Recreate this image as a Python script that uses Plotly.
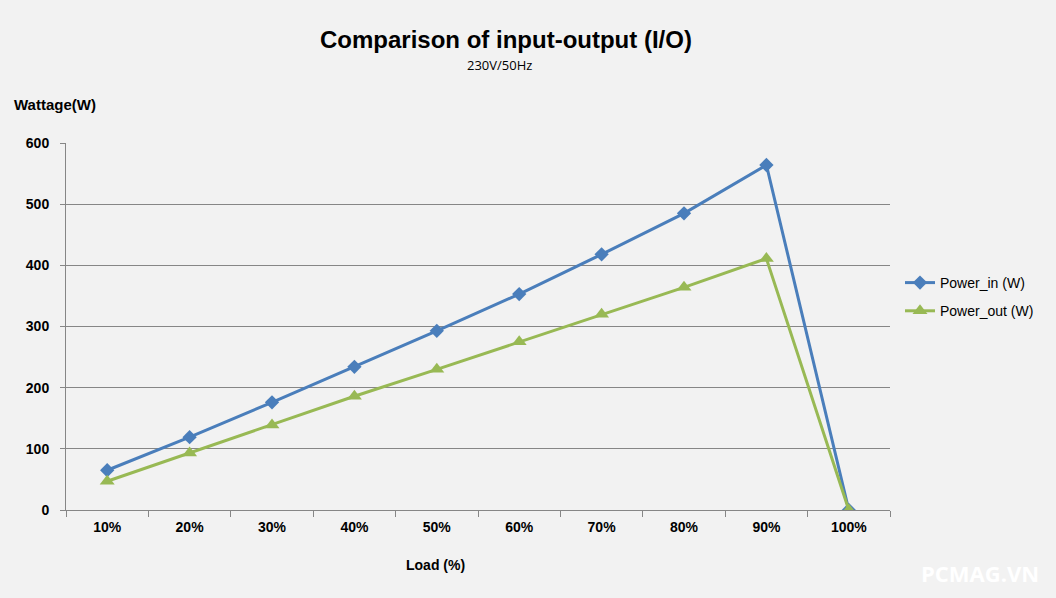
import plotly.graph_objects as go

categories = ["10%", "20%", "30%", "40%", "50%", "60%", "70%", "80%", "90%", "100%"]
power_in = [65, 119, 176, 234, 293, 353, 418, 485, 564, 0]
power_out = [47, 93, 139, 186, 230, 275, 320, 364, 411, 0]
y_ticks = [0, 100, 200, 300, 400, 500, 600]

BG = "#F2F2F2"
GRID = "#868686"
W, H = 1056, 598
L, R, T, B = 66, 890, 143, 510

fig = go.Figure()
fig.add_trace(go.Scatter(
    x=categories, y=power_in, name="Power_in (W)", mode="lines+markers",
    legendgroup="a",
    line=dict(color="#4A7EBB", width=3),
    marker=dict(symbol="diamond", size=11, color="#4A7EBB"),
))
fig.add_trace(go.Scatter(
    x=categories, y=power_out, name="Power_out (W)", mode="lines+markers",
    legendgroup="b",
    line=dict(color="#98B954", width=3),
    marker=dict(symbol="triangle-up", size=13, color="#98B954"),
))

pw, ph = R - L, B - T
def px(x):
    return (x - L) / pw
def py(y):
    return (B - y) / ph

fig.update_layout(
    width=W, height=H,
    paper_bgcolor=BG, plot_bgcolor=BG,
    margin=dict(l=L, r=W - R, t=T, b=H - B),
    font=dict(family="Liberation Sans, Arial, sans-serif", color="#000000"),
    showlegend=True,
    legend=dict(x=px(900), y=py(297), xanchor="left", yanchor="middle",
                font=dict(size=14, family="Liberation Sans, Arial"),
                bgcolor="rgba(0,0,0,0)", tracegroupgap=7),
    xaxis=dict(
        type="category", range=[-0.5, 9.5],
        showgrid=False, showline=True, linecolor=GRID, linewidth=1,
        ticks="outside", tickson="boundaries", ticklen=6, tickcolor=GRID,
        tickfont=dict(size=14, family="Liberation Sans, Arial", weight="bold"),
        ticklabelstandoff=4,
        zeroline=False,
    ),
    yaxis=dict(
        range=[0, 600], tickvals=y_ticks,
        showgrid=True, gridcolor=GRID, gridwidth=1,
        showline=True, linecolor=GRID, linewidth=1,
        ticks="outside", ticklen=5, tickcolor=GRID,
        tickfont=dict(size=14, family="Liberation Sans, Arial", weight="bold"),
        ticklabelstandoff=8,
        zeroline=False,
    ),
    annotations=[
        dict(text="<b>Comparison of input-output (I/O)</b>", x=px(506), y=py(40),
             xref="paper", yref="paper", showarrow=False,
             font=dict(size=24, family="Liberation Sans, Arial"),
             xanchor="center", yanchor="middle"),
        dict(text="230V/50Hz", xref="paper", yref="paper", x=px(499), y=py(65),
             showarrow=False, xanchor="center", yanchor="middle",
             font=dict(size=13, family="Open Sans, Noto Sans, sans-serif")),
        dict(text="<b>Wattage(W)</b>", xref="paper", yref="paper", x=px(12), y=py(104),
             showarrow=False, xanchor="left", yanchor="middle",
             font=dict(size=15, family="Liberation Sans, Arial")),
        dict(text="<b>Load (%)</b>", xref="paper", yref="paper", x=px(435), y=py(565),
             showarrow=False, xanchor="center", yanchor="middle",
             font=dict(size=14, family="Liberation Sans, Arial")),
        dict(text="<b>PCMAG.VN</b>", xref="paper", yref="paper", x=px(980), y=py(573),
             showarrow=False, xanchor="center", yanchor="middle",
             font=dict(size=22, family="Open Sans, sans-serif", color="#FFFFFF")),
    ],
)

fig.write_html(
    "out.html",
    config={"displayModeBar": False},
    post_script="document.body.style.margin='0';document.body.style.background='#F2F2F2';",
)
